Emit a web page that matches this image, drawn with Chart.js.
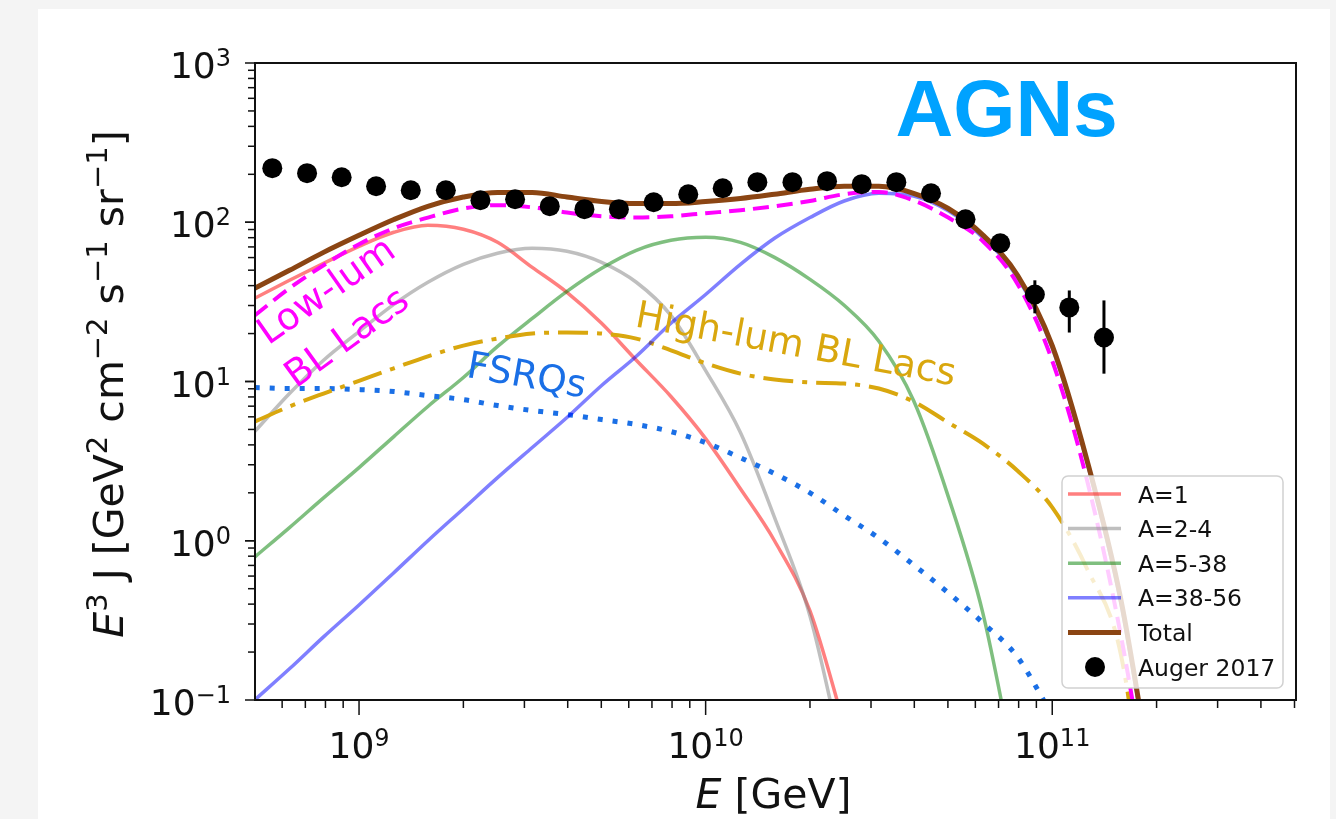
<!DOCTYPE html>
<html>
<head>
<meta charset="utf-8">
<script src="https://cdn.jsdelivr.net/npm/chart.js@4.4.1/dist/chart.umd.min.js"></script>
<style>
  html, body { margin: 0; padding: 0; background: #f4f4f4; }
  canvas { display: block; }
</style>
</head>
<body>
<canvas id="grafico" width="1336" height="819"></canvas>
<script>
// energia (GeV) - grade comum das curvas do modelo
const energia = [5.0e8, 6.3e8, 7.9e8, 1.0e9, 1.26e9, 1.58e9, 2.0e9, 2.51e9, 3.16e9, 3.98e9,
  5.01e9, 6.31e9, 7.94e9, 1.0e10, 1.26e10, 1.58e10, 2.0e10, 2.51e10, 3.16e10, 3.98e10,
  5.01e10, 6.31e10, 7.94e10, 1.0e11, 1.26e11, 1.58e11, 2.0e11];

// E^3 J para cada componente
const totalJ = [38.5, 49.9, 64.7, 82.8, 104, 126, 144, 154, 154, 144, 135, 131, 131, 135, 141,
  150, 161, 168, 168, 152, 122, 83, 46.5, 16.8, 3.2, 0.42, 0.02];
const lowLum = [26, 38.5, 53.7, 72.8, 91.7, 107, 122, 128, 124, 115, 109, 107, 109, 114, 119,
  126, 136, 150, 155, 137, 107, 76, 41, 13.5, 2.4, 0.25, 0.012];
const highLum = [5.6, 6.97, 8.4, 10.1, 12.1, 14.4, 16.8, 18.6, 20.0, 20.3, 20.0, 18.6, 15.7, 13.0,
  11.2, 10.3, 9.86, 9.7, 9.03, 7.48, 5.52, 4.07, 2.75, 1.62, 0.667, 0.19, 0.005];
const fsrq = [9.17, 9.03, 9.03, 8.9, 8.65, 8.16, 7.7, 7.06, 6.57, 6.2, 5.77, 5.37, 4.85, 4.13,
  3.32, 2.64, 2.0, 1.44, 1.04, 0.706, 0.471, 0.305, 0.186, 0.08, null, null, null];
const a1 = [33.3, 43.2, 55.2, 70.6, 86.5, 95.7, 90.3, 74.8, 52.1, 36.3, 23.2, 13.6, 8.05, 4.38,
  2.12, 1.0, 0.363, 0.07, null, null, null, null, null, null, null, null, null];
const a2_4 = [4.85, 8.4, 13.6, 20.6, 30.5, 42.0, 54.4, 63.9, 68.6, 65.7, 56.0, 42.0, 26.0, 11.7,
  4.78, 1.4, 0.337, 0.04, null, null, null, null, null, null, null, null, null];
const a5_38 = [0.79, 1.21, 1.86, 2.88, 4.51, 6.97, 10.6, 16.6, 24.9, 36.8, 51.4, 66.7, 77.1, 80.5,
  74.8, 60.2, 43.8, 30.1, 17.9, 7.6, 1.9, 0.35, 0.03, null, null, null, null];
const a38_56 = [0.1, 0.157, 0.249, 0.395, 0.63, 1.0, 1.59, 2.49, 3.85, 5.94, 9.44, 14.4, 23.2,
  35.2, 54.4, 79.3, 107, 136, 152, 146, 118, 80, 45, 16.2, 3.1, 0.4, 0.019];

// pontos do Auger 2017
const augerE = [5.62e8, 7.08e8, 8.91e8, 1.12e9, 1.41e9, 1.78e9, 2.24e9, 2.82e9, 3.55e9, 4.47e9,
  5.62e9, 7.08e9, 8.91e9, 1.12e10, 1.41e10, 1.78e10, 2.24e10, 2.82e10, 3.55e10, 4.47e10,
  5.62e10, 7.08e10, 8.91e10, 1.12e11, 1.41e11];
const augerJ = [218.6, 203.4, 191.8, 168.3, 158.8, 158.8, 137.4, 139.5, 126.2, 120.8, 120.8,
  133.6, 149.9, 163.6, 178.6, 178.6, 181.2, 173.4, 178.6, 152.1, 104.4, 73.8, 35.2, 29.2, 18.9];
const augerLo = [null, null, null, null, null, null, null, null, null, null, null, null, null,
  null, null, null, null, null, null, null, null, null, 26.8, 20.3, 11.2];
const augerHi = [null, null, null, null, null, null, null, null, null, null, null, null, null,
  null, null, null, null, null, null, null, null, null, 43.2, 37.3, 32.3];

const yTicks = [0.1, 1, 10, 100, 1000];
const yExp = ['\u22121', '0', '1', '2', '3'];
const xTicks = [1e9, 1e10, 1e11];
const xExp = ['9', '10', '11'];

const cores = {
  a1: 'rgba(255,0,0,0.5)',
  a2: 'rgba(128,128,128,0.5)',
  a5: 'rgba(0,128,0,0.5)',
  a38: 'rgba(0,0,255,0.5)',
  total: '#8b4513',
  low: '#ff00ff',
  high: '#d9a70e',
  fsrq: '#1a6fe6'
};

const pares = arr => energia.map((e, i) => ({ x: e, y: arr[i] }));

function serie(label, arr, cor, largura, dash, ordem) {
  return {
    label: label,
    data: pares(arr),
    borderColor: cor,
    borderWidth: largura,
    borderDash: dash || [],
    pointRadius: 0,
    fill: false,
    cubicInterpolationMode: 'monotone',
    order: ordem
  };
}

const FONTE = '"DejaVu Sans", sans-serif';

function potencia(ctx, exp, x, y, alinh) {
  ctx.font = '36px ' + FONTE;
  const wb = ctx.measureText('10').width;
  ctx.font = '24px ' + FONTE;
  const we = ctx.measureText(exp).width;
  let x0 = alinh === 'right' ? x - wb - we : x - (wb + we) / 2;
  ctx.font = '36px ' + FONTE;
  ctx.fillText('10', x0, y);
  ctx.font = '24px ' + FONTE;
  ctx.fillText(exp, x0 + wb, y - 12);
}

function rotulo(ctx, pedacos, tam) {
  const sup = Math.round(tam * 0.7);
  let w = 0;
  pedacos.forEach(p => {
    ctx.font = (p.it ? 'italic ' : '') + (p.sup ? sup : tam) + 'px ' + FONTE;
    p.w = ctx.measureText(p.t).width;
    w += p.w;
  });
  let x = -w / 2;
  pedacos.forEach(p => {
    ctx.font = (p.it ? 'italic ' : '') + (p.sup ? sup : tam) + 'px ' + FONTE;
    ctx.fillText(p.t, x, p.sup ? -16 : 0);
    x += p.w;
  });
}

const anotacoes = [
  { txt: 'Low-lum', e: 5.47e8, j: 16.8, ang: -35, cor: cores.low },
  { txt: 'BL Lacs', e: 6.58e8, j: 9.0, ang: -36, cor: cores.low },
  { txt: 'FSRQs', e: 2.03e9, j: 10.7, ang: 10, cor: cores.fsrq },
  { txt: 'High-lum BL Lacs', e: 6.21e9, j: 22.2, ang: 10.5, cor: cores.high }
];

const fundo = {
  id: 'fundo',
  beforeDraw(chart) {
    const ctx = chart.ctx;
    ctx.save();
    ctx.fillStyle = '#f4f4f4';
    ctx.fillRect(0, 0, chart.width, chart.height);
    ctx.fillStyle = '#ffffff';
    ctx.fillRect(38, 9, 1292, chart.height);
    ctx.restore();
  }
};

const extras = {
  id: 'extras',
  afterDatasetsDraw(chart) {
    const ctx = chart.ctx;
    const sx = chart.scales.x, sy = chart.scales.y;
    ctx.save();
    // barras de erro
    ctx.strokeStyle = '#000';
    ctx.lineWidth = 3;
    augerE.forEach((e, i) => {
      if (augerLo[i] == null) return;
      const px = sx.getPixelForValue(e);
      ctx.beginPath();
      ctx.moveTo(px, sy.getPixelForValue(augerLo[i]));
      ctx.lineTo(px, sy.getPixelForValue(augerHi[i]));
      ctx.stroke();
    });
    // textos dentro do grafico
    ctx.font = '37.5px ' + FONTE;
    anotacoes.forEach(a => {
      ctx.save();
      ctx.translate(sx.getPixelForValue(a.e), sy.getPixelForValue(a.j));
      ctx.rotate(a.ang * Math.PI / 180);
      ctx.fillStyle = a.cor;
      ctx.fillText(a.txt, 0, 0);
      ctx.restore();
    });
    ctx.font = 'bold 80px "Liberation Sans", Arial, sans-serif';
    ctx.fillStyle = '#00a2ff';
    ctx.fillText('AGNs', sx.getPixelForValue(3.53e10), sy.getPixelForValue(347));
    ctx.restore();
  },
  afterDraw(chart) {
    const ctx = chart.ctx;
    const a = chart.chartArea;
    const sx = chart.scales.x, sy = chart.scales.y;
    ctx.save();

    // legenda
    const lx = 1062, ly = 476, lw = 221, lh = 212;
    ctx.beginPath();
    ctx.roundRect(lx, ly, lw, lh, 6);
    ctx.fillStyle = 'rgba(255,255,255,0.8)';
    ctx.fill();
    ctx.strokeStyle = 'rgba(204,204,204,0.9)';
    ctx.lineWidth = 1.5;
    ctx.stroke();
    const itens = [
      { t: 'A=1', c: cores.a1, w: 3.5 },
      { t: 'A=2-4', c: cores.a2, w: 3.5 },
      { t: 'A=5-38', c: cores.a5, w: 3.5 },
      { t: 'A=38-56', c: cores.a38, w: 3.5 },
      { t: 'Total', c: cores.total, w: 5 },
      { t: 'Auger 2017', m: true }
    ];
    ctx.font = '23.5px ' + FONTE;
    itens.forEach((it, i) => {
      const cy = 494 + i * 34.6;
      if (it.m) {
        ctx.beginPath();
        ctx.arc(1095, cy, 10, 0, Math.PI * 2);
        ctx.fillStyle = '#000';
        ctx.fill();
      } else {
        ctx.beginPath();
        ctx.moveTo(1068, cy);
        ctx.lineTo(1121, cy);
        ctx.strokeStyle = it.c;
        ctx.lineWidth = it.w;
        ctx.stroke();
      }
      ctx.fillStyle = '#111';
      ctx.fillText(it.t, 1138, cy + 8.5);
    });

    // moldura
    ctx.strokeStyle = '#111';
    ctx.lineWidth = 2;
    ctx.strokeRect(a.left, a.top, a.right - a.left, a.bottom - a.top);

    // marcas do eixo y
    ctx.lineWidth = 1.5;
    for (let d = 0.1; d < 1000; d *= 10) {
      for (let k = 1; k <= 10; k++) {
        const v = d * k;
        const py = sy.getPixelForValue(v);
        const maior = k === 1 || k === 10;
        ctx.beginPath();
        ctx.moveTo(a.left - (maior ? 10 : 7), py);
        ctx.lineTo(a.left, py);
        ctx.stroke();
      }
    }
    // marcas do eixo x
    const xMin = sx.min, xMax = sx.max;
    for (let d = 1e8; d < 1e12; d *= 10) {
      for (let k = 1; k < 10; k++) {
        const v = d * k;
        if (v < xMin * 0.999 || v > xMax * 1.001) continue;
        const px = sx.getPixelForValue(v);
        ctx.beginPath();
        ctx.moveTo(px, a.bottom);
        ctx.lineTo(px, a.bottom + (k === 1 ? 15 : 8));
        ctx.stroke();
      }
    }

    // rotulos dos ticks
    ctx.fillStyle = '#111';
    yTicks.forEach((v, i) => potencia(ctx, yExp[i], 231, sy.getPixelForValue(v) + 15, 'right'));
    xTicks.forEach((v, i) => potencia(ctx, xExp[i], sx.getPixelForValue(v), 758, 'center'));

    // titulo do eixo x
    ctx.save();
    ctx.translate((a.left + a.right) / 2 - 2, 808);
    rotulo(ctx, [{ t: 'E', it: true }, { t: ' [GeV]' }], 41);
    ctx.restore();

    // titulo do eixo y
    ctx.save();
    ctx.translate(123, 384);
    ctx.rotate(-Math.PI / 2);
    rotulo(ctx, [
      { t: 'E', it: true }, { t: '3', sup: true }, { t: ' J [GeV' }, { t: '2', sup: true },
      { t: ' cm' }, { t: '\u22122', sup: true }, { t: ' s' }, { t: '\u22121', sup: true },
      { t: ' sr' }, { t: '\u22121', sup: true }, { t: ']' }
    ], 41);
    ctx.restore();

    ctx.restore();
  }
};

new Chart(document.getElementById('grafico'), {
  type: 'line',
  data: {
    datasets: [
      {
        label: 'Auger 2017',
        data: augerE.map((e, i) => ({ x: e, y: augerJ[i] })),
        showLine: false,
        pointRadius: 10,
        pointBackgroundColor: '#000',
        pointBorderWidth: 0,
        order: 0
      },
      serie('Total', totalJ, cores.total, 5, null, 1),
      serie('Low-lum BL Lacs', lowLum, cores.low, 4, [16, 8], 2),
      serie('A=38-56', a38_56, cores.a38, 3.5, null, 3),
      serie('High-lum BL Lacs', highLum, cores.high, 4, [30, 9, 5, 9], 4),
      serie('FSRQs', fsrq, cores.fsrq, 5, [5, 10], 5),
      serie('A=5-38', a5_38, cores.a5, 3.5, null, 6),
      serie('A=2-4', a2_4, cores.a2, 3.5, null, 7),
      serie('A=1', a1, cores.a1, 3.5, null, 8)
    ]
  },
  options: {
    responsive: false,
    animation: false,
    devicePixelRatio: 1,
    layout: { padding: { left: 255, top: 63, right: 40, bottom: 119 } },
    scales: {
      x: { type: 'logarithmic', display: false, min: 5.01e8, max: 5.05e11 },
      y: { type: 'logarithmic', display: false, min: 0.1, max: 1000 }
    },
    plugins: {
      legend: { display: false },
      tooltip: { enabled: false }
    }
  },
  plugins: [fundo, extras]
});
</script>
</body>
</html>
